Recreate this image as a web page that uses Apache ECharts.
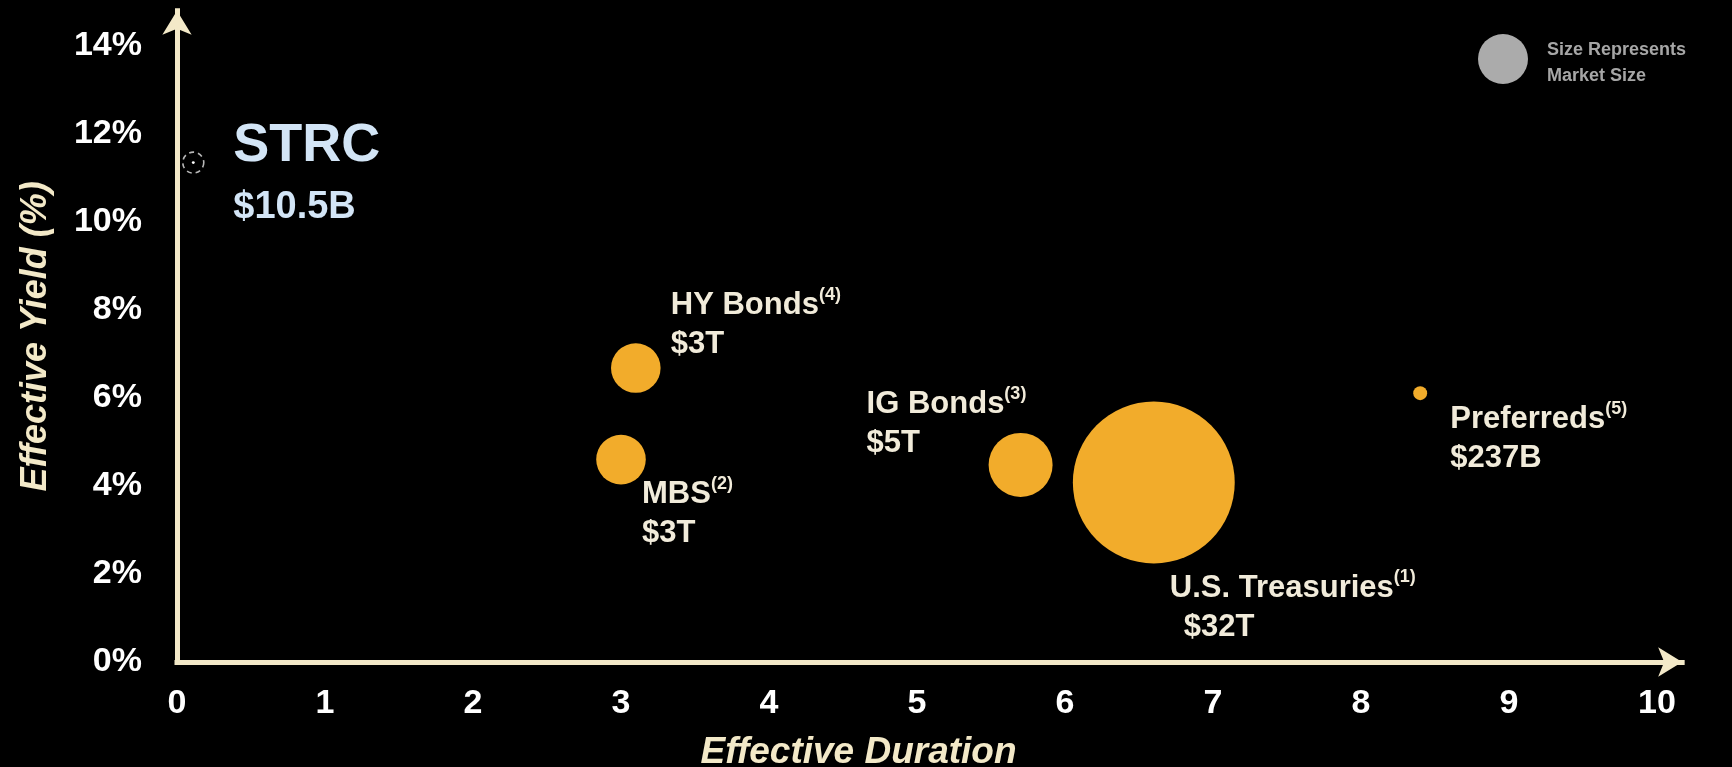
<!DOCTYPE html>
<html>
<head>
<meta charset="utf-8">
<title>Effective Yield vs Effective Duration</title>
<script src="https://cdn.jsdelivr.net/npm/echarts@6/dist/echarts.min.js"></script>
<style>
  html, body { margin: 0; padding: 0; background: #000; }
  #chart { width: 1732px; height: 767px; }
</style>
</head>
<body>
<div id="chart"></div>
<script>
// ---- data ----
const names        = ['STRC', 'HY Bonds', 'MBS', 'IG Bonds', 'U.S. Treasuries', 'Preferreds'];
const footnotes    = ['', '(4)', '(2)', '(3)', '(1)', '(5)'];
const sizeLabels   = ['$10.5B', '$3T', '$3T', '$5T', '$32T', '$237B'];
const marketSizeB  = [10.5, 3000, 3000, 5000, 32000, 237];   // market size, $ billions
const duration     = [0.11, 3.10, 3.00, 5.70, 6.60, 8.40];   // effective duration
const yieldPct     = [11.35, 6.68, 4.60, 4.48, 4.08, 6.11];  // effective yield, %
const xTickLabels  = ['0', '1', '2', '3', '4', '5', '6', '7', '8', '9', '10'];
const yTickLabels  = ['0%', '2%', '4%', '6%', '8%', '10%', '12%', '14%'];

// ---- layout / style ----
const FONT = '"Liberation Sans", Arial, Helvetica, sans-serif';
const AXIS_COLOR = '#f3e9c8';
const LABEL_COLOR = '#f1ebda';
const BUBBLE_COLOR = '#f2ac2b';
const PX_PER_SQRT_B = 0.905;            // bubble diameter per sqrt($B)

// plot area: x = 0 at 177px, 148px per duration unit; y = 0 at 662px, 44px per 1%
const X_MAX = 10.17, Y_MAX = 14.8;
const GRID_LEFT = 177, GRID_BOTTOM_Y = 662, PX_X = 148, PX_Y = 44;

// label anchor (top-left of text block) relative to bubble centre
const labelOffsets = [[40, -48], [35, -82], [21, 15], [-154, -80], [16, 86], [30, 7]];

const chart = echarts.init(document.getElementById('chart'), null, { renderer: 'canvas' });

function labelText(i) {
  if (i === 0) return '{strc|' + names[i] + '}\n{strcVal|' + sizeLabels[i] + '}';
  const val = i === 4 ? 'valIndent' : 'val';
  return '{name|' + names[i] + '}{sup|' + footnotes[i] + '}\n{' + val + '|' + sizeLabels[i] + '}';
}

const points = names.map((n, i) => ({
  name: n,
  value: [duration[i], yieldPct[i], marketSizeB[i]],
  itemStyle: i === 0 ? { color: '#ffffff' } : undefined,
  label: { offset: labelOffsets[i], formatter: labelText(i) }
}));

const option = {
  backgroundColor: '#000000',
  animation: false,
  textStyle: { fontFamily: FONT },
  grid: {
    left: GRID_LEFT,
    top: GRID_BOTTOM_Y - Y_MAX * PX_Y,
    width: X_MAX * PX_X,
    height: Y_MAX * PX_Y,
    containLabel: false,
    outerBoundsMode: 'none'
  },
  xAxis: {
    type: 'value', min: 0, max: X_MAX, interval: 1,
    name: 'Effective Duration', nameLocation: 'middle', nameGap: 72,
    nameTextStyle: {
      color: AXIS_COLOR, fontSize: 37, fontWeight: 'bold', fontStyle: 'italic',
      fontFamily: FONT, lineHeight: 37, padding: [0, 142, 0, 0]
    },
    axisLine: {
      show: true, symbol: ['none', 'arrow'], symbolSize: [22, 24],
      lineStyle: { color: AXIS_COLOR, width: 5, cap: 'square' }
    },
    axisTick: { show: false },
    splitLine: { show: false },
    axisLabel: {
      color: '#ffffff', fontSize: 34, fontWeight: 'bold', fontFamily: FONT, lineHeight: 34,
      margin: 25, showMaxLabel: false,
      formatter: v => xTickLabels[Math.round(v)] ?? ''
    }
  },
  yAxis: {
    type: 'value', min: 0, max: Y_MAX, interval: 2,
    name: 'Effective Yield (%)', nameLocation: 'middle', nameGap: 123,
    nameTextStyle: {
      color: AXIS_COLOR, fontSize: 36, fontWeight: 'bold', fontStyle: 'italic',
      fontFamily: FONT, lineHeight: 36
    },
    axisLine: {
      show: true, symbol: ['none', 'arrow'], symbolSize: [22, 24],
      lineStyle: { color: AXIS_COLOR, width: 5, cap: 'square' }
    },
    axisTick: { show: false },
    splitLine: { show: false },
    axisLabel: {
      color: '#ffffff', fontSize: 34, fontWeight: 'bold', fontFamily: FONT,
      margin: 35, showMaxLabel: false,
      formatter: v => yTickLabels[Math.round(v / 2)] ?? ''
    }
  },
  series: [
    {
      name: 'Market',
      type: 'scatter',
      data: points,
      symbol: 'circle',
      symbolSize: v => PX_PER_SQRT_B * Math.sqrt(v[2]),
      itemStyle: { color: BUBBLE_COLOR, opacity: 1 },
      emphasis: { disabled: true },
      z: 3,
      label: {
        show: true, position: 'inside', align: 'left', verticalAlign: 'top',
        fontFamily: FONT,
        rich: {
          name: { fontSize: 31, fontWeight: 'bold', color: LABEL_COLOR, lineHeight: 39, fontFamily: FONT },
          sup: { fontSize: 18, fontWeight: 'bold', color: LABEL_COLOR, lineHeight: 26, verticalAlign: 'top', fontFamily: FONT },
          val: { fontSize: 31, fontWeight: 'bold', color: LABEL_COLOR, lineHeight: 39, fontFamily: FONT },
          valIndent: { fontSize: 31, fontWeight: 'bold', color: LABEL_COLOR, lineHeight: 39, padding: [0, 0, 0, 14], fontFamily: FONT },
          strc: { fontSize: 54, fontWeight: 'bold', color: '#d3e5f6', lineHeight: 64, fontFamily: FONT },
          strcVal: { fontSize: 38, fontWeight: 'bold', color: '#d3e5f6', lineHeight: 58, fontFamily: FONT }
        }
      }
    },
    {
      // dashed highlight ring around the STRC point
      name: 'STRC ring',
      type: 'scatter',
      data: [[duration[0], yieldPct[0]]],
      symbol: 'circle',
      symbolSize: 21,
      silent: true,
      emphasis: { disabled: true },
      z: 2,
      itemStyle: { color: 'rgba(0,0,0,0)', borderColor: '#e6e6e6', borderWidth: 1.6, borderType: [5, 4] }
    }
  ],
  graphic: [
    { type: 'circle', left: 1478, top: 34, shape: { r: 25 }, style: { fill: '#ababab' } },
    {
      type: 'text', left: 1547, top: 37,
      style: { text: 'Size Represents\nMarket Size', fill: '#a6a6a6', font: 'bold 18px ' + FONT, lineHeight: 26 }
    }
  ]
};

chart.setOption(option);
</script>
</body>
</html>
